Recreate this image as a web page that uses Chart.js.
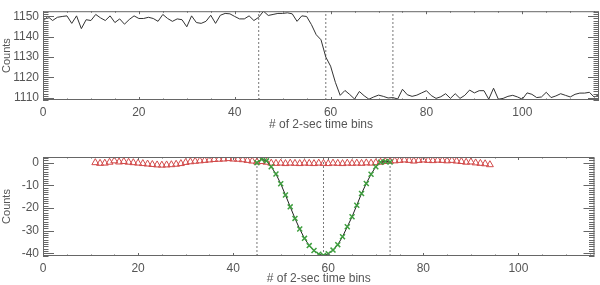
<!DOCTYPE html>
<html>
<head>
<meta charset="utf-8">
<script src="https://cdn.jsdelivr.net/npm/chart.js@4.4.0/dist/chart.umd.min.js"></script>
<style>
  body { margin: 0; background: #fff; }
  canvas { position: absolute; left: 0; }
  #top { top: 0; }
  #bottom { top: 142px; }
</style>
</head>
<body>
<canvas id="top" width="600" height="142"></canvas>
<canvas id="bottom" width="600" height="143"></canvas>
<script>
// light curve, one value per 2-sec bin starting at bin 0
const counts = [
  1147.6, 1150.0, 1148.0, 1149.6, 1150.0, 1150.3, 1146.6, 1150.3, 1144.0, 1148.4,
  1148.0, 1151.0, 1149.3, 1148.0, 1150.3, 1147.0, 1148.8, 1146.2, 1148.5, 1150.3,
  1149.0, 1149.0, 1149.6, 1149.0, 1147.6, 1151.0, 1149.0, 1147.6, 1148.8, 1148.4,
  1144.9, 1150.3, 1147.0, 1146.6, 1147.6, 1150.6, 1146.6, 1150.6, 1151.5, 1151.3,
  1150.0, 1148.8, 1148.8, 1150.3, 1148.0, 1149.6, 1152.6, 1150.5, 1151.0, 1151.5,
  1151.5, 1151.8, 1151.3, 1147.6, 1150.3, 1150.0, 1146.0, 1141.0, 1138.5, 1130.0,
  1125.5, 1117.5, 1111.1, 1113.5, 1111.5, 1109.3, 1113.0, 1110.9, 1109.2, 1110.3,
  1111.2, 1110.6, 1109.8, 1110.0, 1109.3, 1114.1, 1111.4, 1110.6, 1111.2, 1112.3,
  1113.4, 1111.0, 1109.6, 1110.4, 1111.9, 1109.6, 1111.9, 1109.6, 1111.1, 1113.7,
  1112.3, 1113.4, 1113.4, 1109.2, 1114.6, 1109.2, 1109.6, 1110.6, 1111.1, 1110.3,
  1109.2, 1112.3, 1111.6, 1110.0, 1110.3, 1112.6, 1110.0, 1110.8, 1111.9, 1111.1,
  1110.3, 1111.6, 1112.2, 1112.2, 1112.6, 1110.2, 1111.5
];

// residuals (red triangles), bins 11..94
const residStart = 11;
const residuals = [
  0.0, -0.3, -0.2, 0.2, 0.8, 0.3, 0.5, 0.2, 0.0, -0.2,
  -0.4, -0.6, -0.8, -1.0, -1.1, -1.0, -0.9, -0.7, -0.4, 0.1,
  0.4, 0.6, 0.8, 1.0, 1.2, 1.4, 1.5, 1.6, 1.8, 1.6,
  1.5, 1.3, 1.0, 0.7, 0.3, 0.5, 0.2, -0.2, -0.3, -0.2,
  -0.4, -0.2, -0.3, -0.4, -0.2, -0.3, -0.4, -0.2, -0.3, -0.4,
  -0.2, -0.3, -0.4, -0.2, -0.3, -0.2, -0.3, -0.1, -0.2, 0.0,
  0.2, 0.5, 0.6, 0.8, 1.0, 1.2, 1.0, 0.7, 1.0, 1.2,
  1.0, 0.9, 1.1, 1.0, 0.8, 1.0, 0.7, 0.5, 0.2, 0.3,
  -0.1, -0.3, -0.5, -0.9
];

// dip profile (green crosses), bins 45..73
const dipStart = 45;
const dip = [
  0.0, 1.5, 0.8, -1.8, -5.0, -9.3, -14.3, -19.5, -24.6, -29.3,
  -33.4, -36.6, -38.8, -40.4, -41.0, -40.2, -38.6, -36.2, -32.7, -28.3,
  -23.9, -18.8, -13.6, -9.2, -5.1, -1.8, 0.2, 0.5, 0.3
];

// dotted markers: start, centre, end of the dip
const marks = [45, 59, 73];

const xRange = [0, 116];
const topRange = [1108.8, 1152.6];
const botRange = [-41.2, 2.5];

const FONT = 'Liberation Sans, Arial, sans-serif';
const INK = '#555';

// IDL style box with inward ticks on all four sides
const idlFrame = {
  id: 'idlFrame',
  afterDatasetsDraw(chart, args, opts) {
    const { ctx, chartArea: a, scales: { x, y } } = chart;
    ctx.save();
    ctx.strokeStyle = '#666';
    ctx.lineWidth = 1;
    ctx.strokeRect(a.left + 0.5, a.top + 0.5, a.width - 1, a.height - 1);
    ctx.beginPath();
    const xTick = (v, len) => {
      const px = Math.round(x.getPixelForValue(v)) + 0.5;
      ctx.moveTo(px, a.bottom); ctx.lineTo(px, a.bottom - len);
      ctx.moveTo(px, a.top); ctx.lineTo(px, a.top + len);
    };
    const yTick = (v, len) => {
      const py = Math.round(y.getPixelForValue(v)) + 0.5;
      ctx.moveTo(a.left, py); ctx.lineTo(a.left + len, py);
      ctx.moveTo(a.right, py); ctx.lineTo(a.right - len, py);
    };
    for (let v = Math.ceil(x.min / opts.minorX) * opts.minorX; v <= x.max; v += opts.minorX) xTick(v, 1.5);
    x.ticks.forEach(t => xTick(t.value, 3));
    for (let v = Math.ceil(y.min / opts.minorY) * opts.minorY; v <= y.max; v += opts.minorY) yTick(v, 5.5);
    y.ticks.forEach(t => yTick(t.value, 11));
    ctx.stroke();
    ctx.restore();
  }
};

function markLines(range) {
  return marks.map(m => ({
    data: [{ x: m, y: range[0] }, { x: m, y: range[1] }],
    showLine: true,
    pointRadius: 0,
    borderColor: '#777',
    borderWidth: 1,
    borderDash: [2, 2]
  }));
}

function makeChart(id, datasets, yRange, padTop, axisH, titlePad) {
  return new Chart(document.getElementById(id), {
    type: 'scatter',
    data: { datasets },
    plugins: [idlFrame],
    options: {
      responsive: false,
      animation: false,
      events: [],
      layout: { padding: { top: padTop, right: 1, left: 0, bottom: 0 } },
      plugins: {
        legend: { display: false },
        tooltip: { enabled: false },
        idlFrame: { minorX: 5, minorY: 1 }
      },
      scales: {
        x: {
          type: 'linear',
          min: xRange[0],
          max: xRange[1],
          grid: { display: false, drawTicks: false },
          border: { display: false },
          ticks: { stepSize: 20, includeBounds: false, padding: 5, maxRotation: 0,
                   color: INK, font: { family: FONT, size: 12 },
                   callback: v => String(v) },
          title: { display: true, text: '# of 2-sec time bins', color: INK,
                   font: { family: FONT, size: 12, lineHeight: 1 },
                   padding: { top: 0, bottom: titlePad } },
          afterFit(s) { s.height = axisH; }
        },
        y: {
          min: yRange[0],
          max: yRange[1],
          grid: { display: false, drawTicks: false },
          border: { display: false },
          ticks: { stepSize: 10, includeBounds: false, padding: 4,
                   color: INK, font: { family: FONT, size: 12 },
                   callback: v => String(v) },
          title: { display: true, text: 'Counts', color: INK,
                   font: { family: FONT, size: 11, lineHeight: 1.1 },
                   padding: { top: 1, bottom: 0 } },
          afterFit(s) { s.width = 43; }
        }
      }
    }
  });
}

makeChart('top', [
  {
    data: counts.map((v, i) => ({ x: i, y: v })),
    showLine: true,
    pointRadius: 0,
    borderColor: '#333',
    borderWidth: 1
  },
  ...markLines(topRange)
], topRange, 2, 42, 11);

makeChart('bottom', [
  {
    data: dip.map((v, i) => ({ x: dipStart + i, y: v })),
    showLine: true,
    borderColor: '#222',
    borderWidth: 1,
    pointStyle: 'crossRot',
    pointRadius: 3.5,
    pointBorderColor: '#3f9f3f',
    pointBorderWidth: 1.5
  },
  {
    data: residuals.map((v, i) => ({ x: residStart + i, y: v })),
    pointStyle: 'triangle',
    pointRadius: 4,
    pointBorderColor: '#d24a4a',
    pointBackgroundColor: 'rgba(0,0,0,0)',
    pointBorderWidth: 1
  },
  ...markLines(botRange)
], botRange, 15, 29, 0);
</script>
</body>
</html>
